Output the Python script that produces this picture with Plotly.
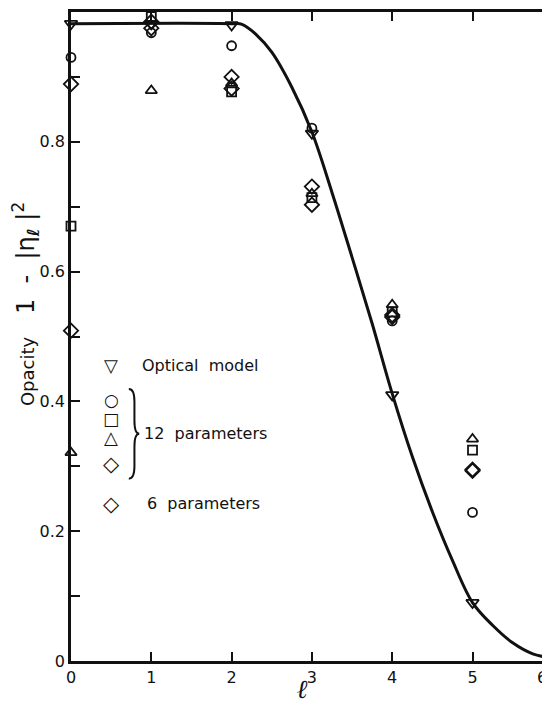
import plotly.graph_objects as go

# partial waves and opacities
l_vals = [0, 1, 2, 3, 4, 5]
optical = [0.982, 0.982, 0.980, 0.813, 0.410, 0.090]
circle12 = [0.930, 0.968, 0.948, 0.821, 0.524, 0.229]
square12 = [0.670, 0.993, 0.877, 0.714, 0.538, 0.325]
triangle12 = [0.321, 0.879, 0.890, 0.720, 0.549, 0.342]
diamond12 = [0.889, 0.985, 0.882, 0.731, 0.530, 0.293]
diamond6 = [0.509, 0.975, 0.900, 0.703, 0.533, 0.295]

# optical model curve
curve_l = [0, 2.0, 2.13, 2.3, 2.5, 2.75, 3.0, 3.25, 3.5, 3.75, 4.0, 4.25, 4.5, 4.75, 5.0, 5.25, 5.5, 5.75, 5.97]
curve_v = [0.982, 0.982, 0.981, 0.966, 0.938, 0.884, 0.815, 0.722, 0.622, 0.520, 0.412, 0.315, 0.230, 0.155, 0.090, 0.055, 0.028, 0.011, 0.005]

y_ticks = [0, 0.2, 0.4, 0.6, 0.8, 1.0]
y_text = ["0", "0.2", "0.4", "0.6", "0.8", "1.0"]

ink = "#111111"
font = "DejaVu Sans"

fig = go.Figure()

fig.add_trace(go.Scatter(x=curve_l, y=curve_v, mode="lines",
                         line=dict(color=ink, width=3, shape="spline", smoothing=1.0)))

series = [
    (optical, "triangle-down-open", 11),
    (circle12, "circle-open", 9),
    (square12, "square-open", 9),
    (triangle12, "triangle-up-open", 10),
    (diamond12, "diamond-open", 11),
    (diamond6, "diamond-open", 11),
]
for vals, sym, size in series:
    fig.add_trace(go.Scatter(x=l_vals, y=vals, mode="markers", cliponaxis=False,
                             marker=dict(symbol=sym, size=size, color=ink,
                                         line=dict(color=ink, width=1.8))))

minor_ticks = dict(ticks="inside", dtick=0.1, ticklen=9, tickwidth=2, tickcolor=ink)

# the page body adds 8px, so margins are offset by it
fig.update_layout(
    width=550, height=701,
    margin=dict(l=63, r=8, t=1, b=48),
    paper_bgcolor="white", plot_bgcolor="white",
    showlegend=False,
    font=dict(family=font, color=ink, size=16),
    xaxis=dict(range=[0, 5.965], tickvals=[0, 1, 2, 3, 4, 5], ticks="inside", ticklen=9,
               tickwidth=2, tickcolor=ink, showline=True, linewidth=2.5, linecolor=ink,
               mirror="ticks", showgrid=False, zeroline=False, tickfont=dict(size=16)),
    yaxis=dict(range=[0, 1], tickvals=y_ticks, ticktext=y_text, ticks="inside", ticklen=9,
               tickwidth=2, tickcolor=ink, showline=True, linewidth=2.5, linecolor=ink,
               showgrid=False, zeroline=False, tickfont=dict(size=16), minor=minor_ticks),
    yaxis2=dict(range=[0, 1], overlaying="y", side="right", tickvals=y_ticks,
                showticklabels=False, ticks="inside", ticklen=9, tickwidth=2,
                tickcolor=ink, showline=False, showgrid=False, zeroline=False,
                minor=minor_ticks),
)

# legend drawn as text
legend_x = 0.5
keys = [("▽", 0.455, 18), ("○", 0.402, 17), ("□", 0.373, 17), ("△", 0.344, 18),
        ("◇", 0.304, 21), ("◇", 0.242, 21)]
for glyph, yv, sz in keys:
    fig.add_annotation(x=legend_x, y=yv, xref="x", yref="y", text=glyph, showarrow=False,
                       font=dict(size=sz, color=ink, family=font))
labels = [("Optical  model", 0.455, 0.86), ("12  parameters", 0.350, 0.88), ("6  parameters", 0.242, 0.92)]
for txt, yv, xv in labels:
    fig.add_annotation(x=xv, y=yv, xref="x", yref="y", text=txt, showarrow=False,
                       xanchor="left", font=dict(size=16, color=ink, family=font))

fig.add_shape(type="path", xref="x", yref="y",
              path="M 0.72,0.419 Q 0.79,0.419 0.79,0.40 L 0.79,0.37 Q 0.79,0.35 0.85,0.35 "
                   "Q 0.79,0.35 0.79,0.33 L 0.79,0.30 Q 0.79,0.281 0.72,0.281",
              line=dict(color=ink, width=2))

# axis titles
fig.add_annotation(xref="paper", yref="paper", x=-0.096, y=0.55, textangle=-90,
                   xanchor="center", yanchor="middle",
                   text="Opacity    <span style='font-size:24px'>1  -  |η<sub><i><b>ℓ</b></i></sub> |<sup>2</sup></span>",
                   showarrow=False, font=dict(size=18, color=ink, family=font))
fig.add_annotation(xref="paper", yref="paper", x=0.483, y=-0.043, yanchor="middle",
                   text="<b><i>ℓ</i></b>", showarrow=False,
                   font=dict(size=26, color=ink, family="DejaVu Serif"))
fig.add_annotation(xref="paper", yref="paper", x=0.998, y=-0.007, yanchor="top",
                   text="6", showarrow=False, font=dict(size=16, color=ink, family=font))

fig.write_html("out.html")
